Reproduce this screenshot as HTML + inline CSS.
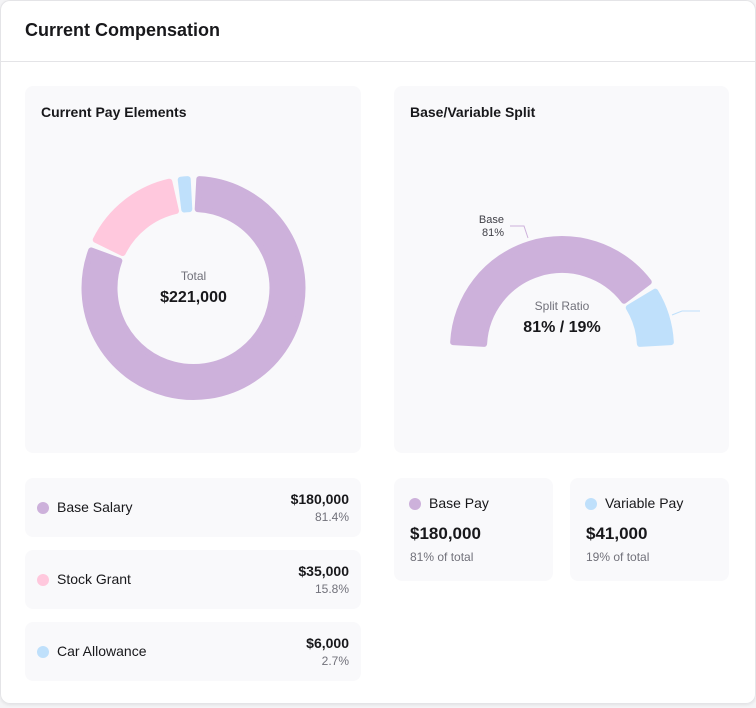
<!DOCTYPE html>
<html><head><meta charset="utf-8"><style>
*{box-sizing:border-box;margin:0;padding:0}
body{width:756px;height:708px;background:#f4f4f6;font-family:"Liberation Sans",sans-serif;color:#18181b;position:relative;overflow:hidden}
.card{position:absolute;left:0;top:0;width:756px;height:704px;background:#fff;border-radius:10px;box-shadow:inset 0 0 0 1px #e4e4e7,0 1px 3px rgba(0,0,0,.08)}
.hdr{position:absolute;left:0;top:0;width:756px;height:62px;border-bottom:1px solid #e4e4e7}
.hdr h1{position:absolute;left:25px;top:20px;font-size:18px;font-weight:bold}
.panel{position:absolute;background:#f9f9fb;border-radius:8px}
.ptitle{position:absolute;left:16px;top:18px;font-size:14px;font-weight:bold}
.item{position:absolute;left:25px;width:336px;height:59px;background:#f9f9fb;border-radius:8px}
.dot{position:absolute;left:12px;top:24px;width:12px;height:12px;border-radius:50%}
.lbl{position:absolute;left:32px;top:21px;font-size:14px}
.val{position:absolute;right:12px;top:13px;font-size:14px;font-weight:bold;text-align:right}
.pct{position:absolute;right:12px;top:32px;font-size:12px;color:#71717a}
.sc{position:absolute;top:478px;width:159px;height:103px;background:#f9f9fb;border-radius:8px}
.sc .dot{left:15px;top:20px}
.sc .lbl{left:35px;top:17px}
.sc .big{position:absolute;left:16px;top:46px;font-size:17px;font-weight:bold}
.sc .sub{position:absolute;left:16px;top:72px;font-size:12px;color:#71717a}
</style></head><body>
<div class="card">
<div class="hdr"><h1>Current Compensation</h1></div>
<div class="panel" style="left:25px;top:86px;width:336px;height:367px">
<div class="ptitle">Current Pay Elements</div></div>
<div class="panel" style="left:394px;top:86px;width:335px;height:367px">
<div class="ptitle">Base/Variable Split</div></div>
<svg id="charts" width="756" height="708" style="position:absolute;left:0;top:0">
<text x="193.5" y="280" text-anchor="middle" font-size="12" fill="#71717a" font-family="Liberation Sans">Total</text>
<text x="193.5" y="302" text-anchor="middle" font-size="16" font-weight="bold" fill="#18181b" font-family="Liberation Sans">$221,000</text>
<text x="562" y="310" text-anchor="middle" font-size="12" fill="#71717a" font-family="Liberation Sans">Split Ratio</text>
<text x="562" y="332" text-anchor="middle" font-size="16" font-weight="bold" fill="#18181b" font-family="Liberation Sans">81% / 19%</text>
<text x="504" y="223" text-anchor="end" font-size="11" fill="#3f3f46" font-family="Liberation Sans">Base</text>
<text x="504" y="236" text-anchor="end" font-size="11" fill="#3f3f46" font-family="Liberation Sans">81%</text>
<polyline points="510,226 524,226 528,238" fill="none" stroke="#cdb1db" stroke-width="1"/>
<polyline points="672,315 682,311 700,311" fill="none" stroke="#bfe0fb" stroke-width="1"/>
</svg>
<div class="item" style="top:478px"><div class="dot" style="background:#cdb1db"></div><div class="lbl">Base Salary</div><div class="val">$180,000</div><div class="pct">81.4%</div></div>
<div class="item" style="top:550px"><div class="dot" style="background:#ffc8dd"></div><div class="lbl">Stock Grant</div><div class="val">$35,000</div><div class="pct">15.8%</div></div>
<div class="item" style="top:622px"><div class="dot" style="background:#bfe0fb"></div><div class="lbl">Car Allowance</div><div class="val">$6,000</div><div class="pct">2.7%</div></div>
<div class="sc" style="left:394px"><div class="dot" style="background:#cdb1db"></div><div class="lbl">Base Pay</div><div class="big">$180,000</div><div class="sub">81% of total</div></div>
<div class="sc" style="left:570px"><div class="dot" style="background:#bfe0fb"></div><div class="lbl">Variable Pay</div><div class="big">$41,000</div><div class="sub">19% of total</div></div>
</div>
<script>
const payCategories=["Base Salary","Stock Grant","Car Allowance"];
const payValues=[180000,35000,6000];
const payColors=["#cdb1db","#ffc8dd","#bfe0fb"];
const splitCategories=["Base","Variable"];
const splitValues=[81,19];
const splitColors=["#cdb1db","#bfe0fb"];
const NS="http://www.w3.org/2000/svg";
const svg=document.getElementById('charts');
function pt(cx,cy,r,a){return [cx+r*Math.sin(a),cy-r*Math.cos(a)];}
function arc(cx,cy,r0,r1,a0,a1){
  const big=(a1-a0)>Math.PI?1:0;
  const p1=pt(cx,cy,r1,a0),p2=pt(cx,cy,r1,a1),p3=pt(cx,cy,r0,a1),p4=pt(cx,cy,r0,a0);
  return `M${p1}A${r1},${r1} 0 ${big} 1 ${p2}L${p3}A${r0},${r0} 0 ${big} 0 ${p4}Z`;
}
function drawRing(cx,cy,r0,r1,start,span,vals,cols,name){
  const tot=vals.reduce((a,b)=>a+b,0);let a=start;
  vals.forEach((v,i)=>{
    const s=span*v/tot;
    const pad=4/((r0+r1)/2);
    const inset=3/((r0+r1)/2);
    const p=document.createElementNS(NS,'path');
    p.setAttribute('d',arc(cx,cy,r0+3,r1-3,a+pad/2+inset,a+s-pad/2-inset));
    p.setAttribute('fill',cols[i]);p.setAttribute('stroke',cols[i]);
    p.setAttribute('stroke-width','6');p.setAttribute('stroke-linejoin','round');
    
    
    svg.insertBefore(p,svg.firstChild);
    a+=s;
  });
}
drawRing(193.5,288,76,112,0,2*Math.PI,payValues,payColors,'donut-slice');
drawRing(562,348,75,112,-Math.PI/2,Math.PI,splitValues,splitColors,'gauge-segment');
</script>
</body></html>
